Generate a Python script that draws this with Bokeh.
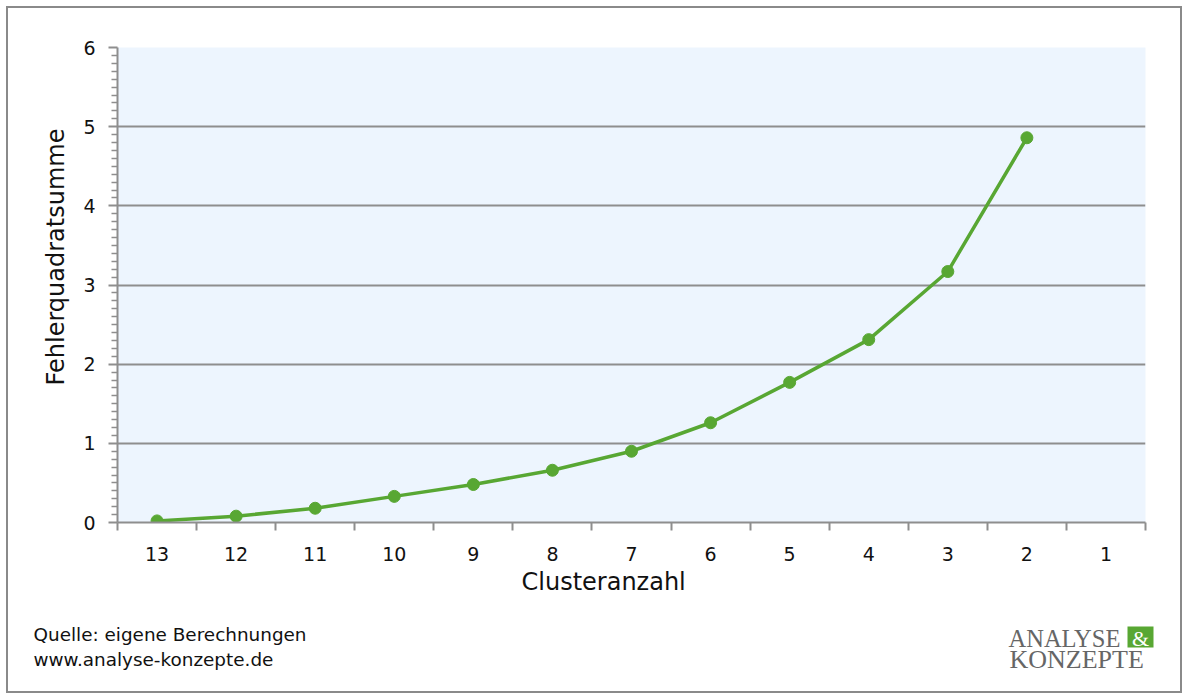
from bokeh.plotting import figure
from bokeh.layouts import column
from bokeh.models import FixedTicker, Range1d, Title
from bokeh.core.properties import value
from bokeh.embed import file_html
from bokeh.resources import INLINE

# ---- data ----
clusters = [13, 12, 11, 10, 9, 8, 7, 6, 5, 4, 3, 2, 1]
sse = [0.02, 0.08, 0.18, 0.33, 0.48, 0.66, 0.90, 1.26, 1.77, 2.31, 3.17, 4.86]
y_ticks = [0, 1, 2, 3, 4, 5, 6]
x_title = "Clusteranzahl"
y_title = "Fehlerquadratsumme"
source_lines = ["Quelle: eigene Berechnungen", "www.analyse-konzepte.de"]
logo_top, logo_amp, logo_bottom = "ANALYSE", "&", "KONZEPTE"

FONT = "DejaVu Sans"
GRID = "#8e8e8e"
GREEN = "#58a733"
W = 1172

n = len(clusters)
xs = [i + 0.5 for i in range(len(sse))]

p = figure(width=W, height=600, output_backend="svg", toolbar_location=None,
           x_range=Range1d(0, n), y_range=Range1d(0, 6),
           min_border_left=109, min_border_right=35, min_border_top=39, min_border_bottom=86)
p.frame_align = False
p.background_fill_color = "#edf5fe"
p.border_fill_color = "white"
p.outline_line_color = None

# line + markers
p.line(xs, sse, line_color=GREEN, line_width=3.5)
p.scatter(xs, sse, size=12, fill_color=GREEN, line_color=GREEN)

# x axis: labels at category centers, ticks at category boundaries (minor ticks)
p.xaxis.ticker = FixedTicker(ticks=[i + 0.5 for i in range(n)], minor_ticks=list(range(n + 1)))
p.xaxis.major_label_overrides = {i + 0.5: str(c) for i, c in enumerate(clusters)}
p.xaxis.major_tick_out = 0
p.xaxis.major_tick_in = 0
p.xaxis.minor_tick_out = 8
p.xaxis.minor_tick_in = 0
p.xaxis.minor_tick_line_color = GRID
p.xaxis.minor_tick_line_width = 2
p.xaxis.axis_line_color = GRID
p.xaxis.axis_line_width = 2
p.xaxis.major_label_standoff = 16

# y axis
p.yaxis.ticker = FixedTicker(ticks=y_ticks,
                             minor_ticks=[k / 10 for k in range(0, 61) if k % 10 != 0])
p.yaxis.major_tick_out = 9
p.yaxis.major_tick_in = 0
p.yaxis.minor_tick_out = 6
p.yaxis.minor_tick_in = 0
p.yaxis.major_tick_line_color = GRID
p.yaxis.major_tick_line_width = 2
p.yaxis.minor_tick_line_color = GRID
p.yaxis.minor_tick_line_width = 1.5
p.yaxis.axis_line_color = GRID
p.yaxis.axis_line_width = 2
p.yaxis.major_label_standoff = 13

for ax in (p.xaxis, p.yaxis):
    ax.major_label_text_font = FONT
    ax.major_label_text_font_size = "19px"
    ax.major_label_text_color = "#111111"

# axis titles (off-centre like the original)
p.add_layout(Title(text=x_title, align="left", offset=404, standoff=4,
                   text_font=FONT, text_font_size="24px", text_font_style="normal",
                   text_color="#111111"), "below")
p.add_layout(Title(text=y_title, align="left", offset=137, standoff=21,
                   text_font=FONT, text_font_size="24px", text_font_style="normal",
                   text_color="#111111"), "left")

p.xgrid.grid_line_color = None
p.ygrid.ticker = FixedTicker(ticks=y_ticks)
p.ygrid.grid_line_color = GRID
p.ygrid.grid_line_width = 2

# ---- footer (pixel-coordinate panel: x to the right, y downward) ----
FH = 83
f = figure(width=W, height=FH, output_backend="svg", toolbar_location=None,
           x_range=Range1d(0, W), y_range=Range1d(FH, 0),
           min_border=0, min_border_left=0, min_border_right=0,
           min_border_top=0, min_border_bottom=0)
f.frame_align = False
f.axis.visible = False
f.grid.visible = False
f.outline_line_color = None
f.background_fill_color = "white"
f.border_fill_color = "white"

f.text(x=[25, 25], y=[26, 51], text=source_lines, text_font=value(FONT),
       text_font_size="18.4px", text_color="#111111",
       text_baseline="middle", text_align="left")

f.text(x=[1000], y=[30], text=[logo_top], text_font=value("Liberation Serif"),
       text_font_size="24.5px", text_color="#666666",
       text_baseline="middle", text_align="left")
f.rect(x=[1132], y=[28.5], width=26, height=21, fill_color=GREEN, line_color=None)
f.text(x=[1132], y=[29.5], text=[logo_amp], text_font=value("Liberation Serif"),
       text_font_size="22px", text_color="white",
       text_baseline="middle", text_align="center")
f.text(x=[1001], y=[50.5], text=[logo_bottom], text_font=value("Liberation Serif"),
       text_font_size="26px", text_color="#666666",
       text_baseline="middle", text_align="left")

layout = column(p, f, spacing=0)
layout.styles = {"border": "2px solid #8a8a8a", "margin": "6px 0 0 6px"}

open("out.html", "w").write(file_html(layout, INLINE))
